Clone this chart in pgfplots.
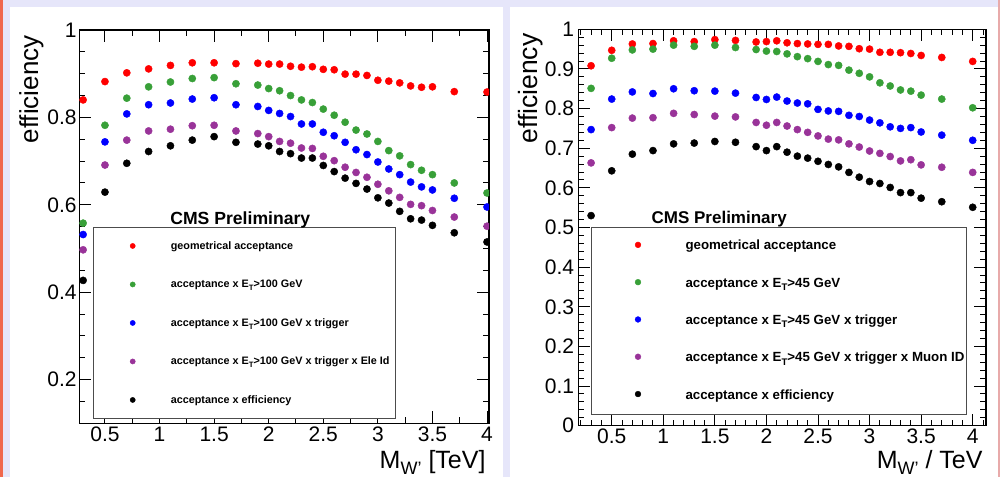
\documentclass[border=0pt]{standalone}
\usepackage{fontspec}
\setmainfont{Liberation Sans}
\usepackage{graphicx}
\usepackage{pgfplots}
\usepackage{pgfplotstable}
\pgfplotsset{compat=1.18}
\definecolor{lav}{RGB}{230,230,250}
\definecolor{lstripe}{RGB}{240,104,78}
\definecolor{rstripe}{RGB}{232,170,170}
\definecolor{rgreen}{RGB}{56,160,56}
\definecolor{rpurple}{RGB}{153,51,153}
\newcommand\lsub[1]{\raisebox{-0.5ex}{\scalebox{0.72}{#1}}}

\pgfplotstableread{
x r g b p k
0.3 0.840 0.558 0.532 0.497 0.427
0.5 0.882 0.782 0.744 0.691 0.629
0.7 0.902 0.844 0.808 0.748 0.695
0.9 0.911 0.870 0.829 0.769 0.722
1.1 0.919 0.881 0.833 0.773 0.735
1.3 0.925 0.889 0.842 0.781 0.748
1.5 0.925 0.891 0.845 0.782 0.756
1.7 0.923 0.877 0.829 0.769 0.743
1.9 0.924 0.874 0.825 0.763 0.739
2.0 0.922 0.866 0.816 0.756 0.735
2.1 0.922 0.861 0.809 0.745 0.722
2.2 0.917 0.850 0.802 0.741 0.717
2.3 0.915 0.840 0.785 0.730 0.707
2.4 0.916 0.834 0.785 0.729 0.707
2.5 0.910 0.819 0.766 0.711 0.690
2.6 0.909 0.805 0.758 0.701 0.676
2.7 0.899 0.789 0.743 0.686 0.661
2.8 0.899 0.771 0.726 0.674 0.649
2.9 0.896 0.762 0.715 0.663 0.636
3.0 0.885 0.745 0.698 0.647 0.616
3.1 0.883 0.724 0.682 0.632 0.604
3.2 0.879 0.712 0.669 0.617 0.585
3.3 0.872 0.692 0.652 0.601 0.568
3.4 0.869 0.679 0.641 0.598 0.565
3.5 0.870 0.669 0.634 0.587 0.553
3.7 0.859 0.650 0.615 0.572 0.536
4.0 0.858 0.627 0.595 0.551 0.515
}\leftdata

\pgfplotstableread{
x r g b p k
0.3 0.908 0.851 0.747 0.663 0.530
0.5 0.947 0.927 0.824 0.752 0.643
0.7 0.963 0.948 0.842 0.776 0.685
0.9 0.964 0.950 0.838 0.777 0.694
1.1 0.971 0.960 0.850 0.788 0.711
1.3 0.969 0.957 0.845 0.785 0.713
1.5 0.974 0.960 0.844 0.781 0.717
1.7 0.972 0.954 0.839 0.779 0.715
1.9 0.968 0.949 0.828 0.765 0.704
2.0 0.969 0.945 0.823 0.758 0.694
2.1 0.971 0.944 0.829 0.765 0.704
2.2 0.966 0.938 0.819 0.756 0.690
2.3 0.964 0.931 0.814 0.747 0.680
2.4 0.963 0.926 0.812 0.740 0.675
2.5 0.962 0.919 0.798 0.731 0.667
2.6 0.962 0.911 0.794 0.723 0.659
2.7 0.958 0.909 0.793 0.721 0.653
2.8 0.957 0.897 0.783 0.711 0.639
2.9 0.951 0.889 0.780 0.703 0.627
3.0 0.950 0.880 0.771 0.693 0.616
3.1 0.942 0.865 0.764 0.687 0.611
3.2 0.942 0.857 0.754 0.679 0.601
3.3 0.941 0.847 0.750 0.668 0.588
3.4 0.939 0.844 0.752 0.671 0.588
3.5 0.934 0.834 0.741 0.658 0.574
3.7 0.929 0.824 0.733 0.652 0.565
4.0 0.919 0.802 0.720 0.639 0.551
}\rightdata

\pgfplotsset{
  rootaxis/.style={
    scale only axis, anchor=south west,
    tick align=inside, tick pos=both,
    major tick length=12pt, minor tick length=6pt,
    axis line style={line width=1.2pt},
    tick style={black, line width=1pt},
    tick label style={font=\fontsize{21}{24}\selectfont},
    clip marker paths=true,
    legend cell align=left,
  },
  dot/.style={only marks, mark=*, mark size=3.6pt, color=#1, mark options={line width=0.4pt}},
}

\begin{document}
\begin{tikzpicture}
\path[use as bounding box] (0pt,0pt) rectangle (1000pt,477pt);
\fill[lav] (0pt,0pt) rectangle (1000pt,477pt);
\fill[white] (10pt,0pt) rectangle (503pt,470pt);
\fill[white] (510pt,0pt) rectangle (997.5pt,470pt);
\fill[lstripe] (0pt,0pt) rectangle (2.7pt,477pt);
\fill[rstripe] (997.5pt,0pt) rectangle (1000pt,477pt);

% ---------------- left panel ----------------
\begin{axis}[rootaxis,
  at={(79.3pt,53.7pt)}, width=409.7pt, height=393.3pt,
  xmin=0.265, xmax=4.018, ymin=0.1, ymax=1,
  xtick={0.5,1,1.5,2,2.5,3,3.5,4}, xticklabels={0.5,1,1.5,2,2.5,3,3.5,4},
  minor xtick={0.25,0.75,1.25,1.75,2.25,2.75,3.25,3.75},
  ytick={0.2,0.4,0.6,0.8,1}, yticklabels={0.2,0.4,0.6,0.8,1},
  minor ytick={0.1,0.15,0.25,0.3,0.35,0.45,0.5,0.55,0.65,0.7,0.75,0.85,0.9,0.95},
  yticklabel style={inner xsep=2.5pt},
  ylabel={efficiency},
  ylabel style={at={(axis description cs:-0.1008,0.995)}, anchor=base east, font=\fontsize{26}{30}\selectfont},
  xlabel={M\lsub{W'} [TeV]},
  xlabel style={at={(axis description cs:1,-0.1137)}, anchor=base east, font=\fontsize{25}{30}\selectfont},
  legend style={at={(0.0342,0.5)}, anchor=north west, draw=black!70, line width=1pt, fill=white,
    inner xsep=6pt, inner ysep=12.6pt, row sep=26.1pt,
    font=\bfseries\fontsize{10.8}{13}\selectfont,
    nodes={inner sep=0pt, text height=9.4pt, text depth=3pt}},
  legend image code/.code={\path (0pt,0pt) (70pt,0pt); \draw[mark repeat=2,mark phase=2,#1] plot coordinates {(0pt,0pt) (32.4pt,0pt) (70pt,0pt)};},
  legend image post style={mark size=2.6pt},
]
\addplot[dot=red] table[x=x,y=r]{\leftdata};
\addlegendentry{geometrical acceptance}
\addplot[dot=rgreen] table[x=x,y=g]{\leftdata};
\addlegendentry{acceptance x E\lsub{T}>100 GeV}
\addplot[dot=blue] table[x=x,y=b]{\leftdata};
\addlegendentry{acceptance x E\lsub{T}>100 GeV x trigger}
\addplot[dot=rpurple] table[x=x,y=p]{\leftdata};
\addlegendentry{acceptance x E\lsub{T}>100 GeV x trigger x Ele Id}
\addplot[dot=black] table[x=x,y=k]{\leftdata};
\addlegendentry{acceptance x efficiency}
\end{axis}
\node[anchor=base, font=\bfseries\fontsize{17.6}{20}\selectfont] at (240.3pt,252pt) {CMS Preliminary};

% ---------------- right panel ----------------
\begin{axis}[rootaxis,
  at={(578.3pt,51.3pt)}, width=407.7pt, height=396.4pt,
  xmin=0.176, xmax=4.129, ymin=0, ymax=1,
  xtick={0.5,1,1.5,2,2.5,3,3.5,4}, xticklabels={0.5,1,1.5,2,2.5,3,3.5,4},
  minor xtick={0.2,0.3,0.4,0.6,0.7,0.8,0.9,1.1,1.2,1.3,1.4,1.6,1.7,1.8,1.9,2.1,2.2,2.3,2.4,2.6,2.7,2.8,2.9,3.1,3.2,3.3,3.4,3.6,3.7,3.8,3.9,4.1},
  ytick={0,0.1,0.2,0.3,0.4,0.5,0.6,0.7,0.8,0.9,1}, yticklabels={0,0.1,0.2,0.3,0.4,0.5,0.6,0.7,0.8,0.9,1},
  minor y tick num=4,
  yticklabel style={inner xsep=4pt},
  ylabel={efficiency},
  ylabel style={at={(axis description cs:-0.099,0.998)}, anchor=base east, font=\fontsize{26.5}{30}\selectfont},
  xlabel={M\lsub{W'} / TeV},
  xlabel style={at={(axis description cs:1,-0.107)}, anchor=base east, font=\fontsize{25}{30}\selectfont},
  legend style={at={(0.0304,0.502)}, anchor=north west, draw=black!70, line width=1pt, fill=white,
    inner xsep=2pt, inner ysep=12pt, row sep=23.2pt,
    font=\bfseries\fontsize{13.3}{16}\selectfont,
    nodes={inner sep=0pt, text height=10.6pt, text depth=3.5pt}},
  legend image code/.code={\path (0pt,1.4pt) (91.3pt,1.4pt); \draw[mark repeat=2,mark phase=2,#1] plot coordinates {(0pt,1.4pt) (44.3pt,1.4pt) (91.3pt,1.4pt)};},
  legend image post style={mark size=2.9pt},
]
\addplot[dot=red] table[x=x,y=r]{\rightdata};
\addlegendentry{geometrical acceptance}
\addplot[dot=rgreen] table[x=x,y=g]{\rightdata};
\addlegendentry{acceptance x E\lsub{T}>45 GeV}
\addplot[dot=blue] table[x=x,y=b]{\rightdata};
\addlegendentry{acceptance x E\lsub{T}>45 GeV x trigger}
\addplot[dot=rpurple] table[x=x,y=p]{\rightdata};
\addlegendentry{acceptance x E\lsub{T}>45 GeV x trigger x Muon ID}
\addplot[dot=black] table[x=x,y=k]{\rightdata};
\addlegendentry{acceptance x efficiency}
\end{axis}
\node[anchor=base, font=\bfseries\fontsize{17}{20}\selectfont] at (719.2pt,253.7pt) {CMS Preliminary};
\end{tikzpicture}
\end{document}
